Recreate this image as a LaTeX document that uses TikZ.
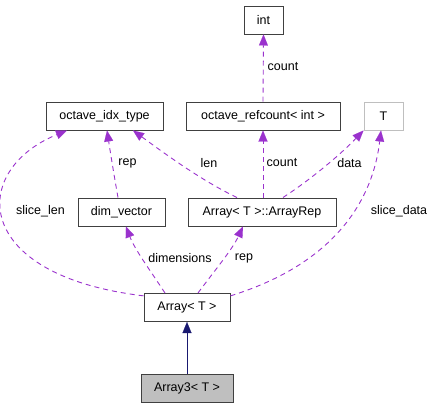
\documentclass[tikz,border=0pt]{standalone}
\usepackage{fontspec}
\setmainfont{Liberation Sans}
\usetikzlibrary{arrows.meta}
\definecolor{edgepurple}{HTML}{9A32CD}
\definecolor{edgenavy}{HTML}{191970}
\definecolor{boxgrey}{HTML}{BFBFBF}
\definecolor{boxline}{HTML}{404040}
\begin{document}
\begin{tikzpicture}[x=1pt,y=-1pt,
  every node/.style={font=\fontsize{12.5}{15}\selectfont},
  cls/.style={draw=boxline,line width=1pt,fill=white,minimum height=28pt,inner sep=0pt,anchor=center},
  usage/.style={draw=edgepurple,line width=0.9pt,dash pattern=on 5pt off 4pt,
     -{Triangle[length=11pt,width=9pt,fill=edgepurple,line width=0.1pt]}},
  inherit/.style={draw=edgenavy,line width=0.9pt,
     -{Triangle[length=11pt,width=9pt,fill=edgenavy,line width=0.1pt]}},
  lbl/.style={inner sep=0pt,anchor=center}]
\useasboundingbox (0,0) rectangle (434,408);
% nodes
\node[cls,minimum width=39pt] (int) at (263.5,20) {int};
\node[cls,minimum width=117pt] (idx) at (104.5,116) {octave\_idx\_type};
\node[cls,minimum width=154pt] (ref) at (263,116) {octave\_refcount< int >};
\node[cls,minimum width=39pt,draw=boxgrey] (T) at (383.5,116) {T};
\node[cls,minimum width=87pt] (dim) at (121.5,212) {dim\_vector};
\node[cls,minimum width=148pt] (rep) at (262,212) {Array< T >::ArrayRep};
\node[cls,minimum width=86pt] (arr) at (187,307.5) {Array< T >};
\node[cls,minimum width=92pt,fill=boxgrey] (arr3) at (187,388) {Array3< T >};
% edges
\draw[usage] (ref.north) -- (int.south);
\node[lbl] (l1) at (283,67) {count};
\draw[usage] (dim.north -| 118,0) .. controls (114,175) and (110,150) .. (idx.south -| 107,0);
\node[lbl] (l2) at (127.5,163) {rep};
\draw[usage] (rep.north -| 237,0) .. controls (200,180) and (160,150) .. (idx.south -| 133,0);
\node[lbl] (l3) at (209,163) {len};
\draw[usage] (rep.north -| 263,0) -- (ref.south -| 263,0);
\node[lbl] (l4) at (282,163) {count};
\draw[usage] (rep.north -| 283,0) .. controls (310,180) and (340,155) .. (T.south west);
\node[lbl] (l5) at (349.5,163) {data};
\draw[usage] (arr.165) .. controls (-30,275) and (-30,170) .. (idx.south -| 67,0);
\node[lbl] (l6) at (40.5,211) {slice\_len};
\draw[usage] (arr.north -| 165,0) .. controls (150,270) and (135,250) .. (dim.south -| 126,0);
\node[lbl] (l7) at (180,258) {dimensions};
\draw[usage] (arr.north -| 198,0) .. controls (215,270) and (232,250) .. (rep.south -| 243,0);
\node[lbl] (l8) at (244,258) {rep};
\draw[usage] (arr.15) .. controls (330,265) and (372,205) .. (T.south -| 381,0);
\node[lbl] (l9) at (399,211) {slice\_data};
\draw[inherit] (arr3.north) -- (arr.south);
\end{tikzpicture}
\end{document}
